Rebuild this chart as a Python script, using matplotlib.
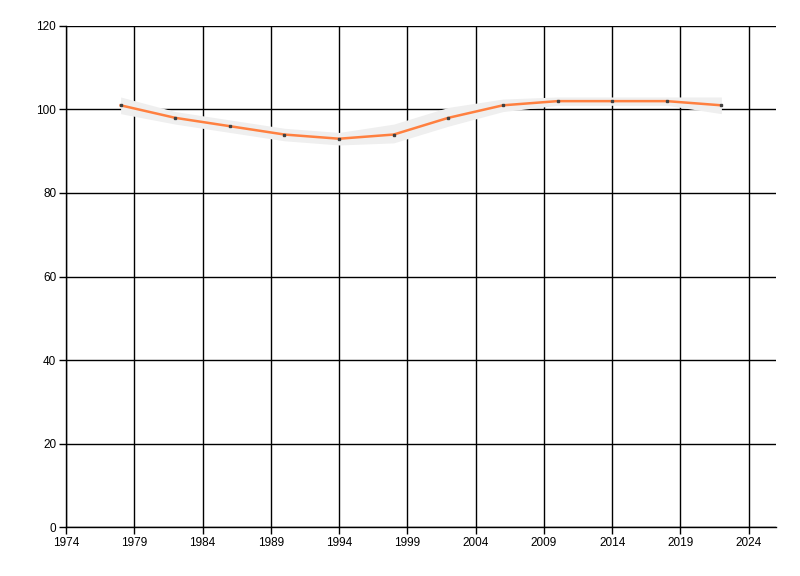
import matplotlib
matplotlib.use("Agg")
import matplotlib.pyplot as plt

years = [1978, 1982, 1986, 1990, 1994, 1998, 2002, 2006, 2010, 2014, 2018, 2022]
values = [101, 98, 96, 94, 93, 94, 98, 101, 102, 102, 102, 101]
upper = [103, 99.5, 97.5, 95.5, 94.5, 96.5, 100.5, 102.5, 103, 103, 103, 103]
lower = [99, 96.5, 94.5, 92.5, 91.5, 92, 96, 99.5, 101, 101, 101, 99]
x_ticks = [1974, 1979, 1984, 1989, 1994, 1999, 2004, 2009, 2014, 2019, 2024]
y_ticks = [0, 20, 40, 60, 80, 100, 120]

plt.rcParams['font.family'] = ['Liberation Sans', 'DejaVu Sans']
fig = plt.figure(figsize=(8, 5.76), dpi=100)
ax = fig.add_axes([0.0825, 0.085, 0.8875, 0.8699])

ax.fill_between(years, lower, upper, color='#efefef', linewidth=0, zorder=2)
ax.plot(years, values, color='#ff8040', linewidth=1.8, zorder=3)
ax.plot(years, values, linestyle='none', marker='s', markersize=1.6,
        color='#404040', zorder=4)

ax.set_xlim(1974, 2026)
ax.set_ylim(0, 120)
ax.set_xticks(x_ticks)
ax.set_yticks(y_ticks)
ax.grid(True, color='black', linewidth=1)
ax.set_axisbelow(True)
for s in ['top', 'right']:
    ax.spines[s].set_visible(False)
for s in ['left', 'bottom']:
    ax.spines[s].set_color('black')
    ax.spines[s].set_linewidth(1)
ax.tick_params(direction='out', length=5, width=1, labelsize=8.5, colors='black', pad=2)

fig.savefig('out.png', dpi=100, facecolor='white')
